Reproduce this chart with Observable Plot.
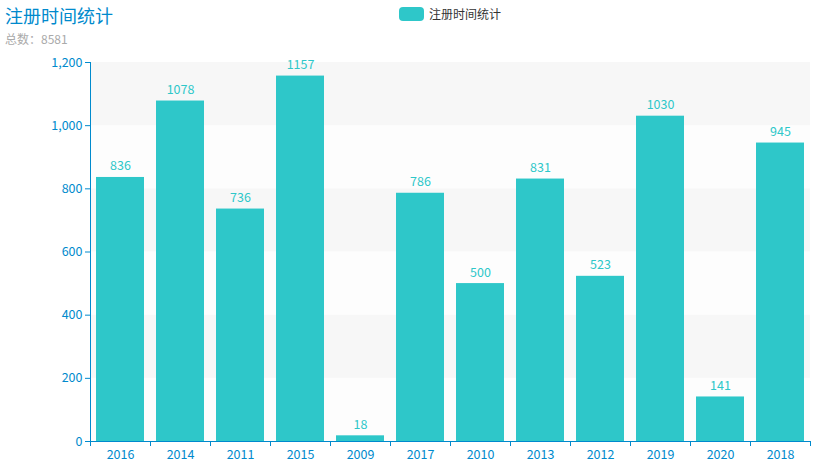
<!DOCTYPE html>
<html><head><meta charset="utf-8">
<script src="https://cdn.jsdelivr.net/npm/d3@7"></script>
<script src="https://cdn.jsdelivr.net/npm/@observablehq/plot@0.6"></script>
<style>
body{margin:0;background:#fff;font-family:"Noto Sans CJK SC","Noto Sans",sans-serif;}
#wrap{position:relative;width:815px;height:465px;}
#title{position:absolute;left:5px;top:3px;font-size:18px;color:#008acd;line-height:24px;}
#sub{position:absolute;left:5px;top:31px;font-size:12px;color:#aaa;line-height:16px;}
#legend{position:absolute;left:399px;top:5px;font-size:12px;color:#333;display:flex;align-items:center;line-height:18px;}
#legend .sw{width:25px;height:14px;border-radius:4px;background:#2ec7c9;margin-right:5px;}
</style></head>
<body><div id="wrap">
<div id="chart"></div>
<div id="title">注册时间统计</div>
<div id="sub">总数：8581</div>
<div id="legend"><span class="sw"></span><span>注册时间统计</span></div>
</div>
<script>
const years = ["2016","2014","2011","2015","2009","2017","2010","2013","2012","2019","2020","2018"];
const counts = [836,1078,736,1157,18,786,500,831,523,1030,141,945];
const yTicks = [0,200,400,600,800,1000,1200];
const seriesName = "注册时间统计";

const data = years.map((y,i)=>({year:y, count:counts[i]}));
const bands = yTicks.slice(0,-1).map((t,i)=>({y1:t, y2:yTicks[i+1], shaded: (yTicks.length-2-i)%2===0}));
const axisColor = "#008acd";
const barColor = "#2ec7c9";

const chart = Plot.plot({
  width:815, height:465,
  marginTop:62, marginBottom:24, marginLeft:90, marginRight:5,
  style:{fontFamily:'"Noto Sans CJK SC","Noto Sans",sans-serif', fontSize:"12px", background:"transparent"},
  x:{type:"band", domain:years, paddingInner:0.2, paddingOuter:0.1},
  y:{domain:[0,1200]},
  marks:[
    Plot.rectY(bands, {y1:"y1", y2:"y2", fill:d=>d.shaded?"#f7f7f7":"#fdfdfd"}),
    Plot.barY(data, {x:"year", y:"count", fill:barColor}),
    Plot.text(data, {x:"year", y:"count", text:d=>String(d.count), fill:barColor, lineAnchor:"bottom", dy:-7, fontSize:12.5}),
    Plot.frame({anchor:"left", stroke:axisColor}),
    Plot.frame({anchor:"bottom", stroke:axisColor}),
    Plot.ruleX(years, {x:d=>d, dx:-30, y1:0, y2:0, insetBottom:-5, stroke:axisColor}),
    Plot.ruleX(years.slice(-1), {x:d=>d, dx:30, y1:0, y2:0, insetBottom:-5, stroke:axisColor}),
    Plot.axisY({ticks:yTicks, tickSize:5, tickPadding:3, tickFormat:d3.format(","), color:axisColor, stroke:axisColor, fill:axisColor, label:null, fontSize:12.5}),
    Plot.axisX({tickSize:0, tickPadding:9, color:axisColor, fill:axisColor, label:null, fontSize:12.5})
  ]
});
document.getElementById("chart").appendChild(chart);
</script>
</body></html>
